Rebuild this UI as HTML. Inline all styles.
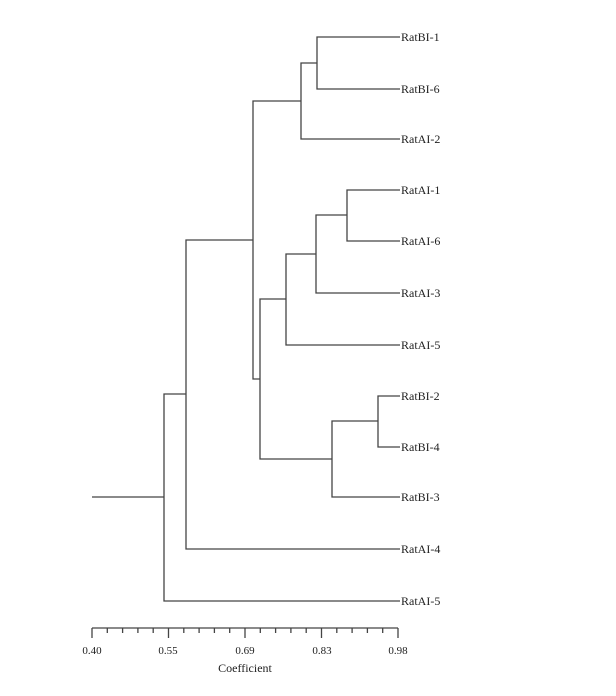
<!DOCTYPE html>
<html><head><style>body{margin:0;background:#fff}</style></head><body>
<svg width="616" height="691" viewBox="0 0 616 691" xmlns="http://www.w3.org/2000/svg">
<g stroke="#444" stroke-width="1.3" fill="none">
<path d="M400,37H317V89H400"/>
<path d="M317,63H301V139H400"/>
<path d="M400,190H347V241H400"/>
<path d="M347,215H316V293H400"/>
<path d="M316,254H286V345H400"/>
<path d="M400,396H378V447H400"/>
<path d="M378,421H332V497H400"/>
<path d="M286,299H260V459H332"/>
<path d="M301,101H253V379H260"/>
<path d="M253,240H186V549H400"/>
<path d="M186,394H164V601H400"/>
<path d="M92,497H164"/>
<path d="M92,628H398"/>
<path d="M92,628V638M168.5,628V638M245,628V638M321.5,628V638M398,628V638"/>
<path d="M107.3,628V633M122.6,628V633M137.9,628V633M153.2,628V633M183.8,628V633M199.1,628V633M214.4,628V633M229.7,628V633M260.3,628V633M275.6,628V633M290.9,628V633M306.2,628V633M336.8,628V633M352.1,628V633M367.4,628V633M382.7,628V633"/>
</g>
<g font-family="Liberation Serif, serif" font-size="12" fill="#222">
<text x="401" y="41">RatBI-1</text>
<text x="401" y="93">RatBI-6</text>
<text x="401" y="143">RatAI-2</text>
<text x="401" y="194">RatAI-1</text>
<text x="401" y="245">RatAI-6</text>
<text x="401" y="297">RatAI-3</text>
<text x="401" y="349">RatAI-5</text>
<text x="401" y="400">RatBI-2</text>
<text x="401" y="451">RatBI-4</text>
<text x="401" y="501">RatBI-3</text>
<text x="401" y="553">RatAI-4</text>
<text x="401" y="605">RatAI-5</text>
<g font-size="11" text-anchor="middle">
<text x="92" y="654">0.40</text>
<text x="168" y="654">0.55</text>
<text x="245" y="654">0.69</text>
<text x="322" y="654">0.83</text>
<text x="398" y="654">0.98</text>
</g>
<text x="245" y="672" font-size="12" text-anchor="middle">Coefficient</text>
</g>
</svg>
</body></html>
